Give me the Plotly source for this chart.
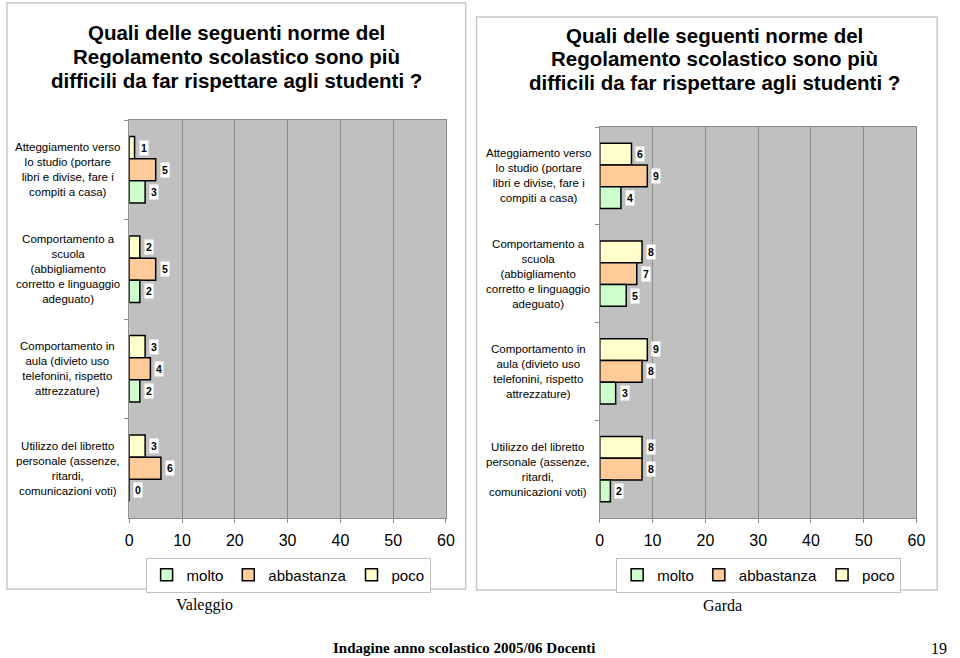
import plotly.graph_objects as go

W, H = 960, 658

categories = [
    "Atteggiamento verso<br>lo studio (portare<br>libri e divise, fare i<br>compiti a casa)",
    "Comportamento a<br>scuola<br>(abbigliamento<br>corretto e linguaggio<br>adeguato)",
    "Comportamento in<br>aula (divieto uso<br>telefonini, rispetto<br>attrezzature)",
    "Utilizzo del libretto<br>personale (assenze,<br>ritardi,<br>comunicazioni voti)",
]
series_names = ["poco", "abbastanza", "molto"]
series_colors = ["#FFFFCC", "#FFCC99", "#CCFFCC"]

valeggio_poco = [1, 2, 3, 3]
valeggio_abbastanza = [5, 5, 4, 6]
valeggio_molto = [3, 2, 2, 0]

garda_poco = [6, 8, 9, 8]
garda_abbastanza = [9, 7, 8, 8]
garda_molto = [4, 5, 3, 2]

x_ticks = [0, 10, 20, 30, 40, 50, 60]
title_lines = [
    "Quali delle seguenti norme del",
    "Regolamento scolastico sono più",
    "difficili da far rispettare agli studenti ?",
]

SANS = "Arial, Liberation Sans, sans-serif"
SERIF = "Times New Roman, Liberation Serif, serif"


def px_x(x):
    return x / W


def px_y(y):
    return 1 - y / H


fig = go.Figure()

panels = [
    dict(name="Valeggio", data=[valeggio_poco, valeggio_abbastanza, valeggio_molto],
         xa="x", ya="y", legend="legend"),
    dict(name="Garda", data=[garda_poco, garda_abbastanza, garda_molto],
         xa="x2", ya="y2", legend="legend2"),
]

annotations = []
for p in panels:
    for i, (nm, col, vals) in enumerate(zip(series_names, series_colors, p["data"])):
        fig.add_trace(go.Bar(
            name=nm, x=vals, y=categories, orientation="h",
            marker=dict(color=col, line=dict(color="#000000", width=1.5)),
            xaxis=p["xa"], yaxis=p["ya"], legend=p["legend"],
            hoverinfo="x+y",
        ))
        for v, c in zip(vals, categories):
            annotations.append(dict(
                x=v, y=c, xref=p["xa"], yref=p["ya"], text=str(v),
                showarrow=False, xanchor="left", yanchor="middle",
                xshift=4, yshift=(1 - i) * 22,
                font=dict(family=SANS, size=10.5, color="#000000", weight="bold"),
                bgcolor="#FFFFFF", borderpad=1,
            ))
    for c in categories:
        annotations.append(dict(
            x=-0.195, y=c, xref=p["xa"] + " domain", yref=p["ya"], text=c,
            showarrow=False, xanchor="center", yanchor="middle", align="center",
            font=dict(family=SANS, size=11.5, color="#000000"),
        ))

# titles (one annotation per line)
for cx, ys in [(236, [32, 56.5, 80]), (720, [35, 58.5, 82])]:
    for line, yy in zip(title_lines, ys):
        annotations.append(dict(x=px_x(cx), y=px_y(yy), xref="paper", yref="paper", text=line,
                                showarrow=False, xanchor="center", yanchor="middle",
                                font=dict(family=SANS, size=20.5, color="#000000", weight="bold")))
# footer texts
annotations.append(dict(x=px_x(203), y=px_y(605), xref="paper", yref="paper", text="Valeggio",
                        showarrow=False, xanchor="center", yanchor="middle",
                        font=dict(family=SERIF, size=16, color="#000000")))
annotations.append(dict(x=px_x(728), y=px_y(605), xref="paper", yref="paper", text="Garda",
                        showarrow=False, xanchor="center", yanchor="middle",
                        font=dict(family=SERIF, size=16, color="#000000")))
annotations.append(dict(x=px_x(467), y=px_y(648), xref="paper", yref="paper",
                        text="Indagine anno scolastico 2005/06 Docenti",
                        showarrow=False, xanchor="center", yanchor="middle",
                        font=dict(family=SERIF, size=15, color="#000000", weight="bold")))
annotations.append(dict(x=px_x(948), y=px_y(648), xref="paper", yref="paper", text="19",
                        showarrow=False, xanchor="center", yanchor="middle",
                        font=dict(family=SERIF, size=16, color="#000000")))

shapes = [
    dict(type="rect", xref="paper", yref="paper", x0=px_x(3), x1=px_x(468), y0=px_y(589), y1=px_y(3),
         line=dict(color="#C8C8C8", width=1.5), fillcolor="rgba(0,0,0,0)", layer="below"),
    dict(type="rect", xref="paper", yref="paper", x0=px_x(479), x1=px_x(946), y0=px_y(590), y1=px_y(17),
         line=dict(color="#C8C8C8", width=1.5), fillcolor="rgba(0,0,0,0)", layer="below"),
]

xaxis_common = dict(range=[0, 60], tickvals=x_ticks, showgrid=True, gridcolor="#8C8C8C", gridwidth=1,
                    showline=True, linecolor="#8C8C8C", linewidth=1, mirror=True,
                    ticks="outside", ticklen=4, tickcolor="#8C8C8C",
                    tickfont=dict(family=SANS, size=16, color="#000000"), zeroline=False,
                    ticklabelstandoff=4, fixedrange=True)
yaxis_common = dict(type="category", autorange="reversed", showticklabels=False,
                    ticks="outside", ticklen=4, tickcolor="#8C8C8C", tickson="boundaries",
                    showline=True, linecolor="#8C8C8C", linewidth=1, mirror=True,
                    showgrid=False, fixedrange=True)

legend_common = dict(orientation="h", xanchor="center", yanchor="middle",
                     bgcolor="#FFFFFF", bordercolor="#C0C0C0", borderwidth=1,
                     font=dict(family=SANS, size=15, color="#000000"),
                     traceorder="reversed", itemclick=False, itemdoubleclick=False,
                     tracegroupgap=0)

fig.update_layout(
    width=W, height=H, margin=dict(l=0, r=0, t=0, b=0),
    paper_bgcolor="#FFFFFF", plot_bgcolor="#C0C0C0",
    barmode="group", bargap=0.33, bargroupgap=0,
    showlegend=True,
    xaxis=dict(domain=[px_x(127), px_x(448)], anchor="y", **xaxis_common),
    yaxis=dict(domain=[px_y(518), px_y(120)], anchor="x", **yaxis_common),
    xaxis2=dict(domain=[px_x(604), px_x(925)], anchor="y2", **xaxis_common),
    yaxis2=dict(domain=[px_y(518), px_y(127)], anchor="x2", **yaxis_common),
    legend=dict(x=px_x(288), y=px_y(575), **legend_common),
    legend2=dict(x=px_x(765), y=px_y(575), **legend_common),
    annotations=annotations,
    shapes=shapes,
    font=dict(family=SANS, color="#000000"),
)

fig.write_html("out.html", config={"displayModeBar": False},
               post_script="document.body.style.margin='0';document.body.style.overflow='hidden';")
